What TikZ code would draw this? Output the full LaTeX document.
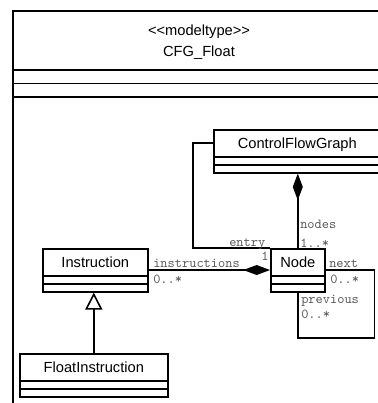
\documentclass[tikz,border=0pt]{standalone}
\usepackage{fontspec}
\setsansfont{Liberation Sans}
\usetikzlibrary{arrows.meta}

\tikzset{
  cls/.style={draw, line width=1.2pt, anchor=north west, inner ysep=0pt,
    font=\sffamily\fontsize{11}{13}\selectfont,
    text height=14.25pt, text depth=18pt,
    path picture={
      \draw[line width=1.2pt] ([yshift=12pt]path picture bounding box.south west)
        -- ([yshift=12pt]path picture bounding box.south east);
      \draw[line width=1.2pt] ([yshift=6pt]path picture bounding box.south west)
        -- ([yshift=6pt]path picture bounding box.south east);
    }},
  clsw/.style={minimum width=#1*0.75pt},
  hdr/.style={anchor=base, inner sep=0pt, font=\sffamily\fontsize{11}{13}\selectfont},
  role/.style={anchor=base west, inner sep=0pt, text=black!65,
    font=\ttfamily\fontsize{10.3}{12}\selectfont},
  assoc/.style={line width=1.2pt},
}

\begin{document}
\begin{tikzpicture}[x=0.75pt, y=-0.75pt]
    \useasboundingbox (0,0) rectangle (378,403);
    \clip (0,0) rectangle (378,403);

    % package frame
    \draw[line width=1.2pt] (13,11) rectangle (400,420);
    \draw[line width=1.2pt] (13,70) -- (400,70);
    \draw[line width=1.2pt] (13,83.5) -- (400,83.5);
    \draw[line width=1.2pt] (13,97) -- (400,97);
    \node[hdr] (stereo) at (199,36) {<{}<modeltype>{}>};
    \node[hdr] (pkgname) at (199,57) {CFG\_Float};

    % classes
    \node[cls, clsw=167] (cfg) at (213,129) {ControlFlowGraph};
    \node[cls, clsw=54] (node) at (270,248) {Node};
    \node[cls, clsw=105] (instr) at (42,248) {Instruction};
    \node[cls, clsw=148] (float) at (19,353) {FloatInstruction};

    % nodes
    \draw[assoc, {Diamond[length=20pt, width=7.5pt]}-] (cfg.south -| node.north) -- (node.north);
    \node[role] (nodesrole) at (300,228) {nodes};
    \node[role] (nodesmult) at (300,247) {1..*};

    % entry
    \coordinate (entrystart) at ([yshift=-10.5pt]cfg.north west);
    \draw[assoc] (entrystart) -- ++(-20,0) |- (node.north west);
    \node[role] (entryrole) at (229,246) {entry};
    \node[role] (entrymult) at (261,260) {1};

    % instructions
    \coordinate (instrend) at ([yshift=-16.5pt]instr.north east);
    \draw[assoc, -{Diamond[length=20pt, width=7.5pt]}] (instrend) -- (instrend -| node.west);
    \node[role] (instrrole) at (153,267) {instructions};
    \node[role] (instrmult) at (153,283) {0..*};

    % next / previous
    \coordinate (nextstart) at ([yshift=-16.5pt]node.north east);
    \draw[assoc] (nextstart) -- ++(49,0) -- ++(0,68) -| (node.south);
    \node[role] (nextrole) at (329,267) {next};
    \node[role] (nextmult) at (330,283) {0..*};
    \node[role] (prevrole) at (301,303) {previous};
    \node[role] (prevmult) at (301,318) {0..*};

    % generalization
    \draw[assoc, -{Triangle[open, length=12.75pt, width=12.75pt]}] (float.north) -- (float.north |- instr.south);
\end{tikzpicture}
\end{document}
